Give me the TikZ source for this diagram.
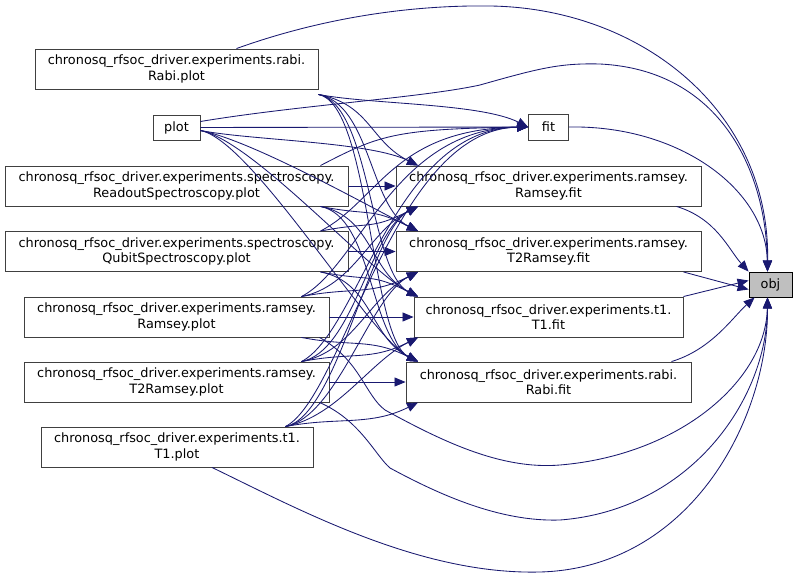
\documentclass[tikz,border=0pt]{standalone}
\usepackage{fontspec}
\setmainfont{DejaVu Sans}
\usepackage{tikz}
\usetikzlibrary{arrows.meta}
\definecolor{edgeblue}{RGB}{25,25,112}
\definecolor{boxgray}{RGB}{64,64,64}
\tikzset{
    callbox/.style={draw=boxgray, line width=0.9pt, fill=white, align=center,
        inner sep=0pt, minimum height=40pt, font=\fontsize{12.85}{15.3}\selectfont},
    smallbox/.style={callbox, minimum height=25pt},
    callarrow/.style={draw=edgeblue, line width=0.85pt,
        -{Triangle[length=11pt,width=9pt]}}
}

\begin{document}
\begin{tikzpicture}[x=1pt,y=-1pt]
    \useasboundingbox (0,0) rectangle (797,578);
    % callers, left column
    \node[callbox, minimum width=283pt] (rabiplot) at (176.5,69) {chronosq\_rfsoc\_driver.experiments.rabi.\\Rabi.plot};
    \node[smallbox, minimum width=47pt] (plot) at (176.5,127.5) {plot};
    \node[callbox, minimum width=343pt] (readout) at (176.5,186) {chronosq\_rfsoc\_driver.experiments.spectroscopy.\\ReadoutSpectroscopy.plot};
    \node[callbox, minimum width=343pt] (qubit) at (176.5,251.5) {chronosq\_rfsoc\_driver.experiments.spectroscopy.\\QubitSpectroscopy.plot};
    \node[callbox, minimum width=305pt] (ramseyplot) at (176.5,317) {chronosq\_rfsoc\_driver.experiments.ramsey.\\Ramsey.plot};
    \node[callbox, minimum width=305pt] (ttworamseyplot) at (176.5,382) {chronosq\_rfsoc\_driver.experiments.ramsey.\\T2Ramsey.plot};
    \node[callbox, minimum width=272pt] (toneplot) at (177,447) {chronosq\_rfsoc\_driver.experiments.t1.\\T1.plot};
    % fit functions, middle column
    \node[smallbox, minimum width=40pt, minimum height=26pt] (fit) at (548.5,127) {fit};
    \node[callbox, minimum width=305pt] (ramseyfit) at (548.5,186) {chronosq\_rfsoc\_driver.experiments.ramsey.\\Ramsey.fit};
    \node[callbox, minimum width=305pt] (ttworamseyfit) at (548.5,251.5) {chronosq\_rfsoc\_driver.experiments.ramsey.\\T2Ramsey.fit};
    \node[callbox, minimum width=269pt] (tonefit) at (548.5,317) {chronosq\_rfsoc\_driver.experiments.t1.\\T1.fit};
    \node[callbox, minimum width=285pt] (rabifit) at (548.5,382) {chronosq\_rfsoc\_driver.experiments.rabi.\\Rabi.fit};
    % callee
    \node[smallbox, minimum width=43pt, fill=gray!50, draw=black] (obj) at (770.5,284.5) {obj};

    % exit points of the callers
    \coordinate (rabiplot-dn) at ([yshift=-5pt]rabiplot.south east);
    \coordinate (plot-dn) at ([yshift=-3pt]plot.east);
    \coordinate (plot-up) at ([yshift=3pt]plot.east);
    \foreach \s in {readout,qubit,ramseyplot,ttworamseyplot,toneplot} {
        \coordinate (\s-dn) at ([xshift=-28pt]\s.south east);
        \coordinate (\s-up) at ([xshift=-28pt]\s.north east);
    }
    % entry points of the fits
    \coordinate (fit-up) at (fit.west);
    \coordinate (fit-dn) at (fit.west);
    \foreach \t in {ramseyfit,ttworamseyfit,tonefit,rabifit} {
        \coordinate (\t-up) at (418,0 |- \t.north);
        \coordinate (\t-dn) at (418,0 |- \t.south);
    }

    % every plot calls every fit
    \foreach \s/\i in {rabiplot/0,plot/1,readout/2,qubit/3,ramseyplot/4,ttworamseyplot/5,toneplot/6} {
        \foreach \t/\j in {fit/1,ramseyfit/2,ttworamseyfit/3,tonefit/4,rabifit/5} {
            \ifnum\i=\j \draw[callarrow] (\s) -- (\t); \fi
            \ifnum\i<\j \draw[callarrow] (\s-dn) .. controls +(52,10) and +(-48,-24) .. (\t-up); \fi
            \ifnum\i>\j
                \ifnum\j=1 \draw[callarrow] (\s-up) .. controls +(58,-30) and +(-135,2) .. (\t-dn);
                \else \draw[callarrow] (\s-up) .. controls +(52,-10) and +(-48,24) .. (\t-dn); \fi
            \fi
        }
    }

    % calls of obj
    \coordinate (obj-top) at ([xshift=-3pt]obj.north);
    \coordinate (obj-bot) at ([xshift=-3pt]obj.south);
    \draw[callarrow] ([xshift=60pt]rabiplot.north) .. controls (330,15) and (420,5) .. (490,6)
        .. controls (640,8) and (770,110) .. (obj-top);
    \draw[callarrow] ([yshift=6pt]plot.east) .. controls (300,105) and (420,98) .. (480,85)
        .. controls (540,68) and (560,63) .. (600,64) .. controls (720,70) and (766,170) .. (obj-top);
    \draw[callarrow] (fit.east) .. controls (680,125) and (766,190) .. (obj-top);
    \draw[callarrow] ([xshift=-25pt]ramseyfit.south east) .. controls +(40,12) and +(-20,-22) .. (obj.north west);
    \draw[callarrow] ([xshift=-18pt]ttworamseyfit.south east) -- ([yshift=-5pt]obj.west);
    \draw[callarrow] (tonefit.north east) -- ([yshift=4pt]obj.west);
    \draw[callarrow] ([xshift=-20pt]rabifit.north east) .. controls +(40,-12) and +(-22,20) .. ([xshift=6pt]obj.south west);
    \draw[callarrow] ([xshift=-10pt]ramseyplot.south east) .. controls (360,360) and (365,395) .. (385,410)
        .. controls (440,440) and (500,470) .. (560,465) .. controls (680,455) and (766,380) .. (obj-bot);
    \draw[callarrow] ([xshift=-10pt]ttworamseyplot.south east) .. controls (360,420) and (375,455) .. (390,468)
        .. controls (440,495) and (500,522) .. (560,520) .. controls (690,510) and (767,400) .. (obj-bot);
    \draw[callarrow] ([xshift=35pt]toneplot.south) .. controls (300,510) and (420,575) .. (540,572)
        .. controls (690,568) and (768,420) .. (obj-bot);
\end{tikzpicture}
\end{document}
